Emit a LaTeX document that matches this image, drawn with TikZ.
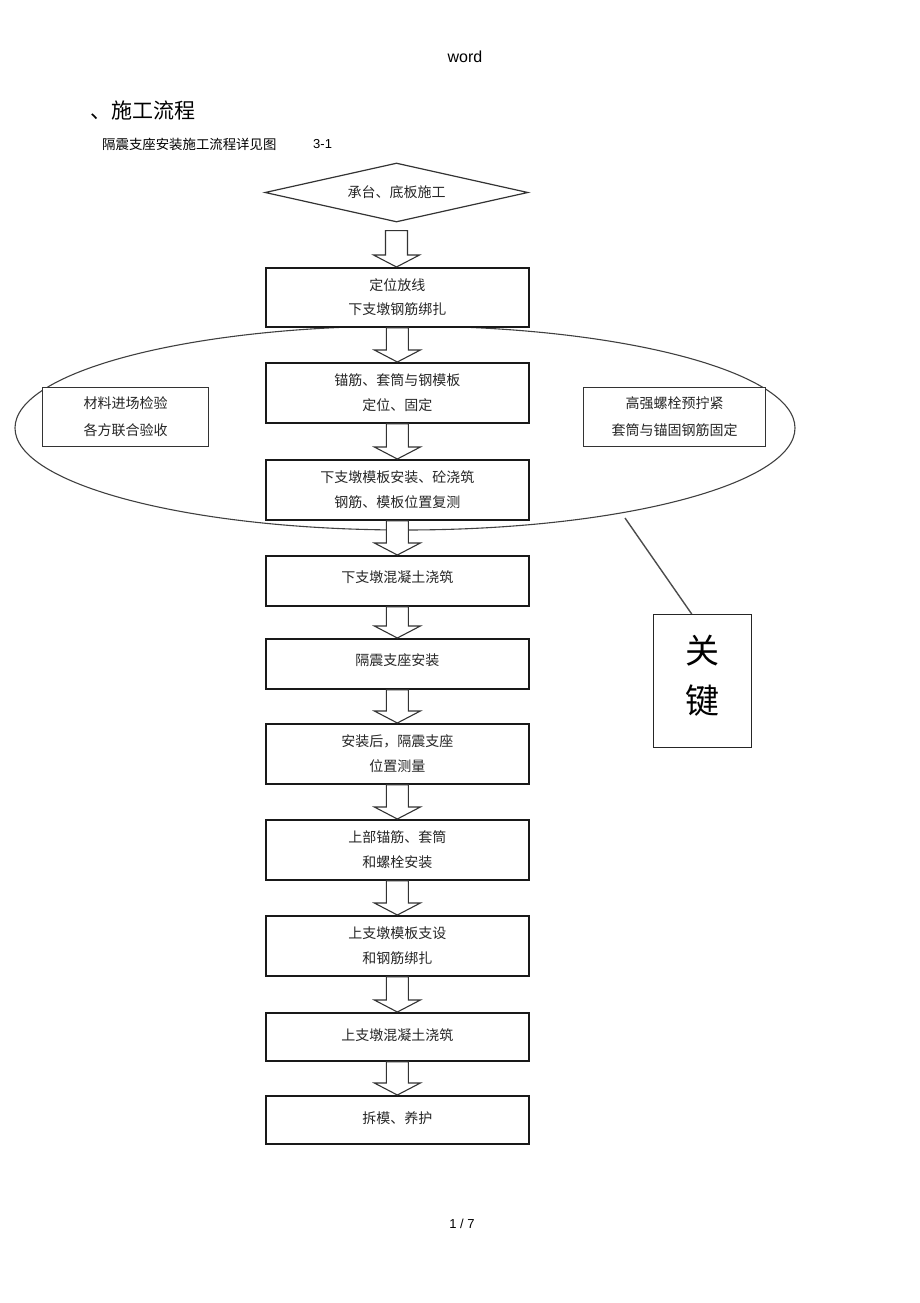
\documentclass[tikz,border=0pt]{standalone}
\usepackage{fontspec}
\setmainfont{Liberation Sans}
\newfontfamily\cjk{Noto Sans CJK SC}
\usetikzlibrary{shapes.geometric,calc}
\newcommand\harrowdraw[2]{%
  \draw[harrow] let \p1=(#1), \p2=(#2) in
    (\x1-11,\y1) -- (\x1+11,\y1) -- (\x1+11,\y2+12) -- (\x1+23,\y2+12) --
    (\x1,\y2) -- (\x1-23,\y2+12) -- (\x1-11,\y2+12) -- cycle;}
\begin{document}
\begin{tikzpicture}[x=1pt,y=-1pt,
  box/.style={draw=black!90,line width=1.7pt,fill=white,minimum width=263pt,
    inner sep=0pt,anchor=north west,font=\cjk\fontsize{14}{24.5}\selectfont,
    align=center,text=black!85},
  sidebox/.style={draw=black!80,line width=1.3pt,fill=white,inner sep=0pt,
    anchor=north west,minimum height=59pt,font=\cjk\fontsize{14}{27}\selectfont,
    align=center,text=black!85},
  harrow/.style={draw=black!80,line width=1.1pt,fill=white,line join=miter},
]
\useasboundingbox (0,0) rectangle (920,1303);

% headings
\node[font=\fontsize{16}{16}\selectfont] (w) at (465,57) {word};
\node[anchor=west,inner sep=0pt,font=\cjk\fontsize{21}{21}\selectfont] (t1) at (90,111) {、施工流程};
\node[anchor=west,inner sep=0pt,font=\cjk\fontsize{13.4}{14}\selectfont] (t2) at (102,144) {隔震支座安装施工流程详见图};
\node[anchor=west,inner sep=0pt,font=\fontsize{13}{14}\selectfont] (t3) at (313,144) {3-1};
\node[font=\fontsize{13}{14}\selectfont] (pg) at (462,1224) {1 / 7};

% ellipse
\node[ellipse,draw=black!75,line width=1.1pt,inner sep=0pt,minimum width=780pt,minimum height=204pt] (el) at (405,428) {};

% diamond
\node[diamond,draw=black!80,line width=1.2pt,aspect=4.46,minimum width=263pt,minimum height=59pt,inner sep=0pt,
  font=\cjk\fontsize{14}{14}\selectfont,text=black!85] (d) at (396.5,192.5) {承台、底板施工};

% main boxes
\node[box,minimum height=59pt] (b1) at (265,267) {定位放线\\下支墩钢筋绑扎};
\node[box,minimum height=60pt] (b2) at (265,362) {锚筋、套筒与钢模板\\定位、固定};
\node[box,minimum height=60pt] (b3) at (265,459) {下支墩模板安装、砼浇筑\\钢筋、模板位置复测};
\node[box,minimum height=50pt,text depth=9pt] (b4) at (265,555) {下支墩混凝土浇筑};
\node[box,minimum height=50pt,text depth=9pt] (b5) at (265,638) {隔震支座安装};
\node[box,minimum height=60pt] (b6) at (265,723) {安装后，隔震支座\\位置测量};
\node[box,minimum height=60pt] (b7) at (265,819) {上部锚筋、套筒\\和螺栓安装};
\node[box,minimum height=60pt] (b8) at (265,915) {上支墩模板支设\\和钢筋绑扎};
\node[box,minimum height=48pt,text depth=5pt] (b9) at (265,1012) {上支墩混凝土浇筑};
\node[box,minimum height=48pt,text depth=4pt] (b10) at (265,1095) {拆模、养护};

% side boxes
\node[sidebox,minimum width=166pt] (sl) at (42,387) {材料进场检验\\各方联合验收};
\node[sidebox,minimum width=182pt] (sr) at (583,387) {高强螺栓预拧紧\\套筒与锚固钢筋固定};

% key box
\node[draw=black!85,line width=1.4pt,inner sep=0pt,anchor=north west,minimum width=98pt,minimum height=133pt,
  align=center,font=\cjk\fontsize{34}{50}\selectfont,text depth=14pt] (gj) at (653,614) {关\\键};
\coordinate (k0) at (625,518);
\draw[black!70,line width=1.4pt] (k0) -- ($(gj.north)+(-11,0)$);

% hollow arrows
\harrowdraw{$(d.south)+(0,8)$}{b1.north}
\harrowdraw{b1.south}{b2.north}
\harrowdraw{b2.south}{b3.north}
\harrowdraw{b3.south}{b4.north}
\harrowdraw{b4.south}{b5.north}
\harrowdraw{b5.south}{b6.north}
\harrowdraw{b6.south}{b7.north}
\harrowdraw{b7.south}{b8.north}
\harrowdraw{b8.south}{b9.north}
\harrowdraw{b9.south}{b10.north}
\end{tikzpicture}
\end{document}
